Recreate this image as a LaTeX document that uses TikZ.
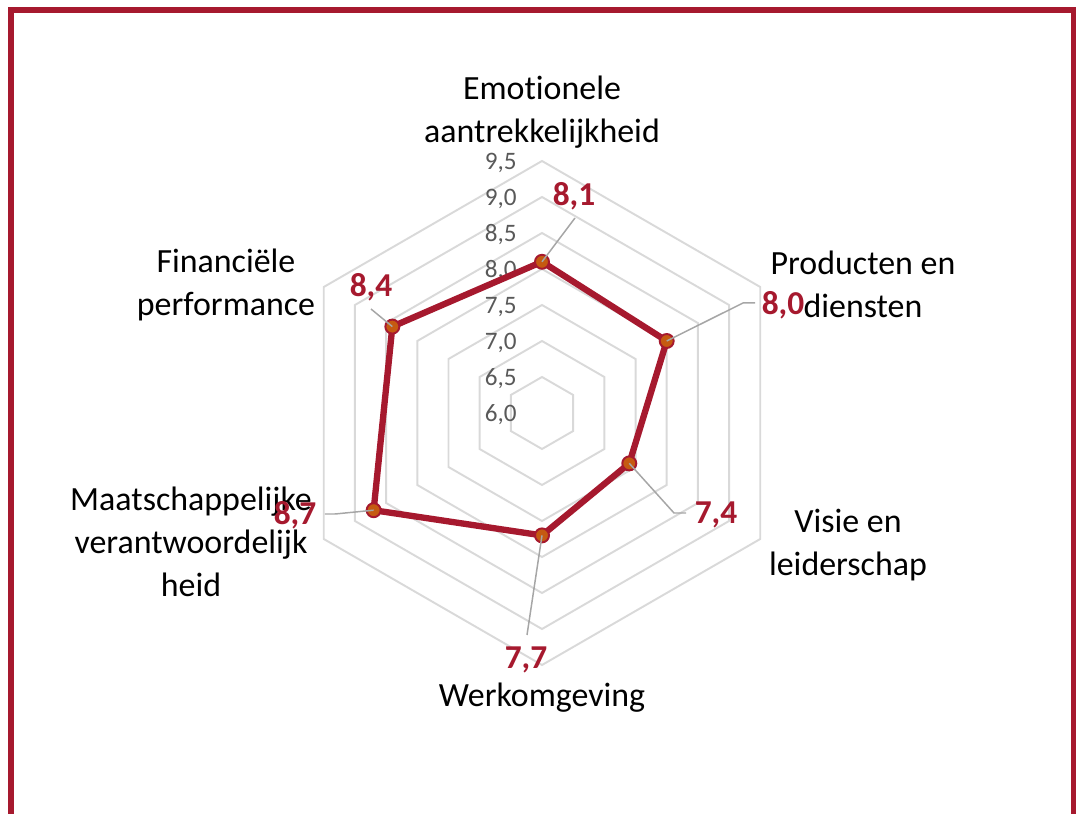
\documentclass[tikz,border=0pt]{standalone}
\usepackage{fontspec}
\setmainfont[Ligatures={NoCommon}]{Carlito}
\begin{document}
\begin{tikzpicture}[x=0.02cm, y=0.02cm,
    cat/.style={inner sep=0pt, align=center, font=\fontsize{19.3}{24.5}\selectfont},
    val/.style={inner sep=0pt, text=my-red, font=\fontsize{19}{21}\selectfont\bfseries},
    tick/.style={inner sep=0pt, anchor=mid east, text=my-text, font=\fontsize{14.3}{16}\selectfont},
    leader/.style={color=my-leader, line width=0.85pt},
    dot/.style={fill=my-orange, draw=my-red, line width=1.1pt}]
    \definecolor{my-red}{RGB}{166,25,46}
    \definecolor{my-orange}{RGB}{197,90,17}
    \definecolor{my-grid}{RGB}{217,217,217}
    \definecolor{my-text}{RGB}{89,89,89}
    \definecolor{my-leader}{RGB}{166,166,166}
    \def\hex#1{(90:#1) -- (30:#1) -- (-30:#1) -- (-90:#1) -- (-150:#1) -- (150:#1) -- cycle}
    \def\rv#1{{(#1-6)*72}}
    \useasboundingbox (-542,-401) rectangle (536,413);
    \begin{scope}
    \clip (-542,-401) rectangle (536,413);
    \draw[color=my-red, line width=2.9pt] (-531,-404) rectangle (531.5,403);
    \end{scope}
    % grid
    \draw[color=my-grid, line width=1.1pt] \hex{36};
    \draw[color=my-grid, line width=1.1pt] \hex{72};
    \draw[color=my-grid, line width=1.1pt] \hex{108};
    \draw[color=my-grid, line width=1.1pt] \hex{144};
    \draw[color=my-grid, line width=1.1pt] \hex{180};
    \draw[color=my-grid, line width=1.1pt] \hex{216};
    \draw[color=my-grid, line width=1.1pt] \hex{252};
    \node[tick] (t60) at (-25,-4) {6,0};
    \node[tick] (t65) at (-25,32) {6,5};
    \node[tick] (t70) at (-25,68) {7,0};
    \node[tick] (t75) at (-25,104) {7,5};
    \node[tick] (t80) at (-25,140) {8,0};
    \node[tick] (t85) at (-25,176) {8,5};
    \node[tick] (t90) at (-25,212) {9,0};
    \node[tick] (t95) at (-25,248) {9,5};
    % categories
    \node[cat] (emo) at (0,301) {Emotionele\\aantrekkelijkheid};
    \node[cat] (prod) at (321,129) {Producten en\\diensten};
    \node[cat] (visie) at (306,-132) {Visie en\\leiderschap};
    \node[cat] (werk) at (0,-285) {Werkomgeving};
    \node[cat] (maat) at (-351,-129) {Maatschappelijke\\verantwoordelijk\\heid};
    \node[cat] (fin) at (-316,128) {Financiële\\performance};
    % data
    \coordinate (E) at (90:\rv{8.1});
    \coordinate (P) at (30:\rv{8.0});
    \coordinate (V) at (-30:\rv{7.4});
    \coordinate (W) at (-90:\rv{7.7});
    \coordinate (M) at (-150:\rv{8.7});
    \coordinate (F) at (150:\rv{8.4});
    \draw[color=my-red, line width=3.6pt, line join=round] (E) -- (P) -- (V) -- (W) -- (M) -- (F) -- cycle;
    \filldraw[dot] (E) circle (7);
    \filldraw[dot] (P) circle (7);
    \filldraw[dot] (V) circle (7);
    \filldraw[dot] (W) circle (7);
    \filldraw[dot] (M) circle (7);
    \filldraw[dot] (F) circle (7);
    % value labels
    \node[val] (vE) at (32,217) {8,1};
    \node[val] (vP) at (241,108) {8,0};
    \node[val] (vV) at (174,-102) {7,4};
    \node[val] (vW) at (-16,-247) {7,7};
    \node[val] (vM) at (-247,-102) {8,7};
    \node[val] (vF) at (-171,126) {8,4};
    \coordinate (eE) at (33,195);
    \coordinate (kP) at (201,110);
    \coordinate (eP) at (213,110);
    \coordinate (kV) at (132,-100);
    \coordinate (eV) at (144,-100);
    \coordinate (eW) at (-15,-222);
    \coordinate (kM) at (-207,-101);
    \coordinate (eM) at (-217,-101);
    \coordinate (eF) at (-171,104);
    \draw[leader] (E) -- (eE);
    \draw[leader] (P) -- (kP) -- (eP);
    \draw[leader] (V) -- (kV) -- (eV);
    \draw[leader] (W) -- (eW);
    \draw[leader] (M) -- (kM) -- (eM);
    \draw[leader] (F) -- (eF);
\end{tikzpicture}
\end{document}
